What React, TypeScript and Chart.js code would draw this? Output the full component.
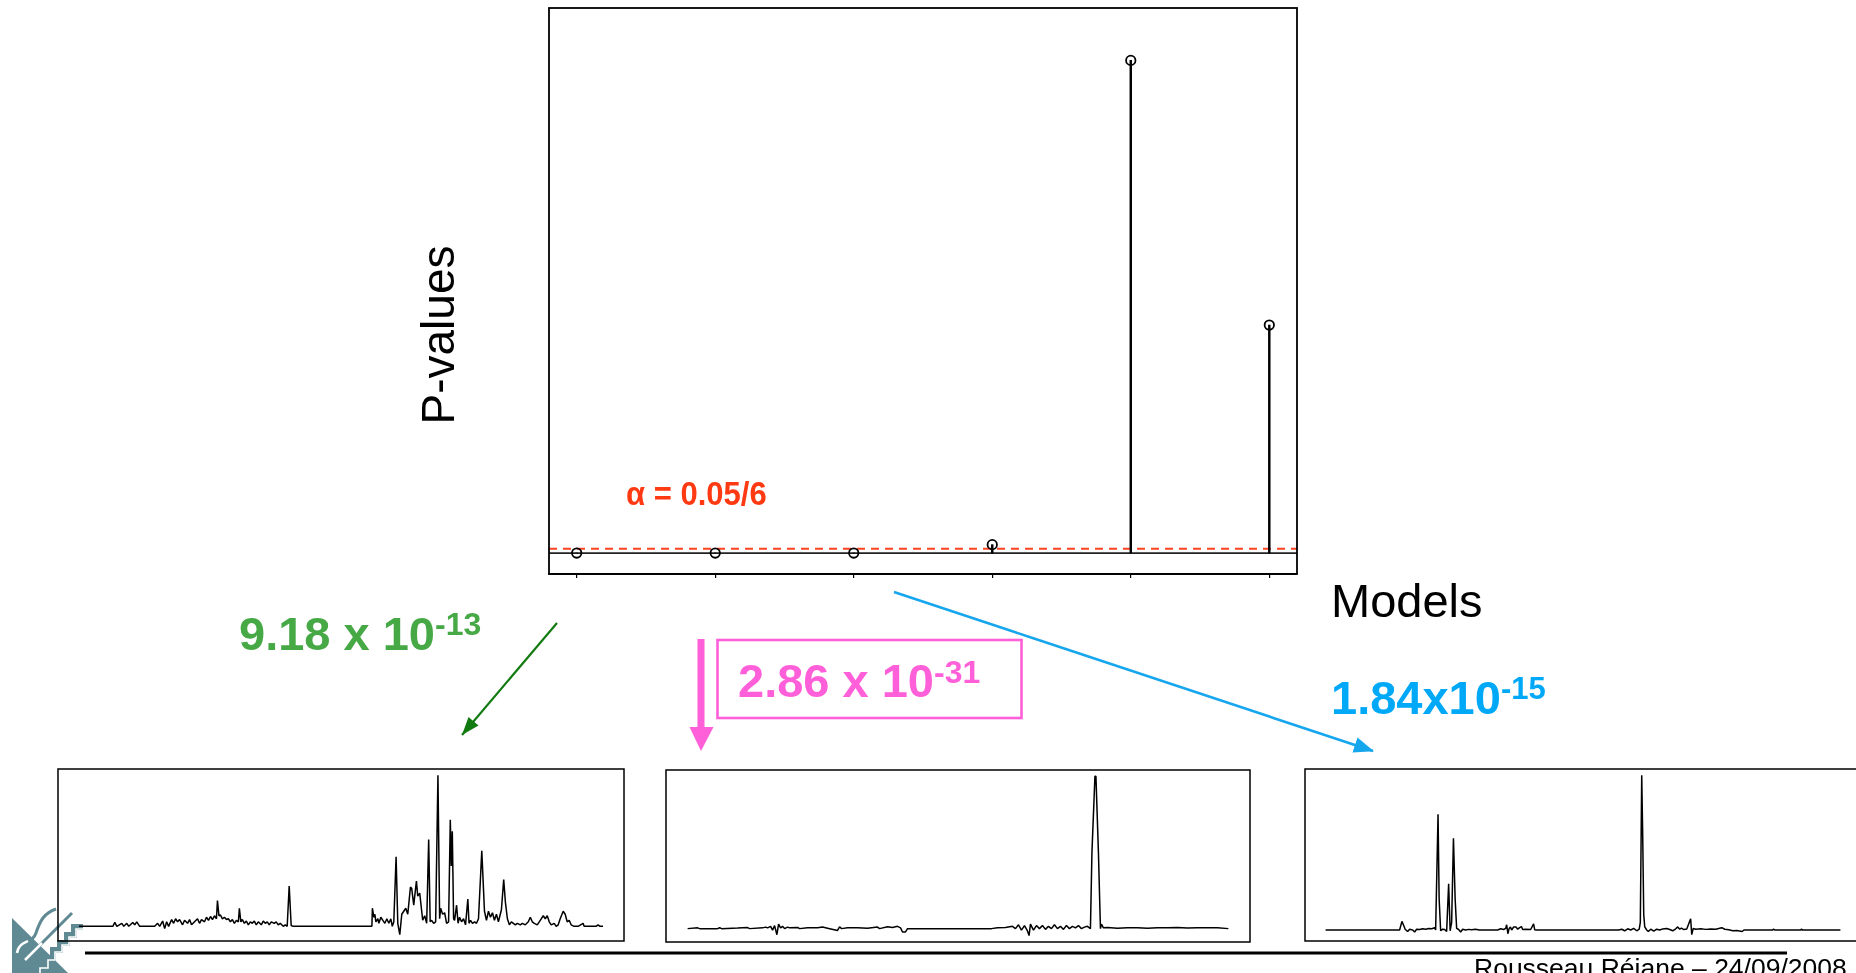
import React, { useEffect, useRef } from "react";
import { Chart, registerables } from "chart.js";

Chart.register(...registerables);

// ---------- Data ----------
const models = [1, 2, 3, 4, 5, 6];
const pValues = [9.18e-13, 2.86e-31, 1.84e-15, 0.016, 0.94, 0.435];
const alphaLevel = 0.05 / 6;
const pRange = [0, 1];

// Spectrum 1 (model 1): [variable index, intensity]
const spectrum1: [number, number][] = [
  [0, 0], [34, 0], [36, 2.6], [38, 0], [43, 2], [45, 0], [48, 2], [50, 0], [54, 2.5], [56, 1], [58, 3], [61, 0], [76, 0],
  [79, 2], [81, 0], [84, 3.5], [86, -1.5], [88, 3], [90, 0], [93, 4.5], [95, 2], [97, 5], [99, 3], [101, 4.5], [104, 1],
  [106, 4], [109, 2], [111, 4.5], [113, 1], [116, 3], [119, 5], [121, 2], [123, 4.5], [126, 3], [128, 6], [130, 4],
  [132, 6.5], [134, 4.5], [136, 7], [138, 5], [139, 17], [140.5, 7], [142, 7.5], [144, 5], [146, 6], [148, 4.5],
  [150, 5], [152, 3], [154, 4.5], [156, 2], [158, 4], [160, 3], [161, 12], [162.5, 3], [164, 4.5], [166, 2], [168, 3.5],
  [170, 1], [172, 3], [174, 2], [176, 3.5], [178, 1], [180, 3], [183, 1], [185, 3.5], [187, 2], [189, 3], [191, 1],
  [193, 3], [196, 2], [198, 3], [200, 1], [202, 2], [205, 0], [207, 1], [209, 0], [211, 26.7], [213, 0.5], [215, 0],
  [294, 0], [294.5, 12], [296, 6], [297, 8], [298, 3], [300, 5], [301, 2], [303, 6], [305, 4], [307, 2], [309, 5],
  [311, 2], [313, 5], [314.5, 0], [316, 3], [318.3, 46], [320, 2], [322, -5.5], [324, 8], [326, 10], [328, 12],
  [330, 8], [332.7, 26], [334, 25], [336, 14], [338.7, 30], [340, 20], [342, 22], [344, 10], [345, 4], [347, 7],
  [349, 2], [351, 57.5], [352.5, 3], [354, 4], [356, 2], [358, 3], [360.3, 100], [362, 5], [363, 12], [365, 8],
  [367, 9], [369, 2], [371, 3], [372.7, 70.6], [373.7, 40], [374.7, 63], [376, 5], [377, 4], [379, 14], [380.5, 2],
  [382, 6], [384, 3], [386, 5], [388, 1], [390.3, 18], [391.5, 2], [393, 4], [395, 2], [397, 3], [399, 2], [401, 5],
  [404.3, 50], [407, 10], [409, 4], [411, 10], [413, 6], [415, 9], [417, 4], [419, 8], [421, 3], [424, 11],
  [426.3, 31], [428, 16], [430, 5], [432, 1], [434, 3], [436, 2], [438, 1], [440, 2], [443, 1], [445, 2], [448, 1],
  [451, 3], [453, 6], [455, 3], [457, 2], [460, 1], [463, 4], [466, 7], [468, 5], [470, 7], [472, 3], [474, 1],
  [477, 2], [479, 0], [481, 1], [483, 5], [486, 10], [488, 8], [490, 3], [492, 4], [494, 1], [497, 0], [501, 0],
  [506, 2], [507, 0], [519, 0], [521, 1], [523, 0], [526, 0],
];

// Spectrum 2 (model 2)
const spectrum2: [number, number][] = [
  [0, 0], [10, 0.5], [12, 0], [30, 0], [32, 0.6], [34, 0], [50, 0.4], [60, 0.7], [62, 0], [75, 0.5], [78, 1],
  [80, 0.5], [83, 1.5], [85, -1], [87, 2], [89.3, -4], [91, 3], [93, 0.5], [95, 1.5], [97, 0], [100, 1], [102, 0.5],
  [110, 0.8], [112, 0], [120, 0.6], [130, 0.5], [135, 1], [140, 0.3], [150, -1.2], [152, 1.2], [154, 0], [160, 0.5],
  [170, 0.6], [180, 0.3], [190, 1], [192, 0], [200, 1.2], [205, 0.8], [210, 1.5], [213, 0.5], [215, -2.2],
  [218, -2.2], [220, 0], [304, 0], [310, 0.5], [318, 0.8], [325, 1.5], [328, 0], [331, 2.5], [334, -1], [337, 2],
  [340, -1.5], [341.6, -4.6], [343, 3], [346, -1], [349, 2], [352, 0], [355, 2], [358, -0.5], [361, 1.5], [364, 0],
  [367, 2.5], [370, 0], [373, 1.5], [376, -0.5], [379, 2], [382, 0], [385, 1.5], [388, 0.5], [391, 2], [394, 0],
  [397, 1], [400, 1.5], [402, 0.5], [403, 0], [404.5, 50], [407.5, 100], [408.5, 100], [411, 50], [413, 0],
  [414, 3], [416, 0.5], [420, 0.7], [430, 0.3], [440, 0.6], [450, 0.5], [460, 0.2], [470, 0.6], [480, 0.5],
  [490, 0.7], [500, 0.4], [510, 0.6], [520, 0.5], [530, 0.6], [541, 0],
];

// Spectrum 3 (model 3)
const spectrum3: [number, number][] = [
  [0, 0], [74, 0], [76.3, 5.6], [78, 3], [79.5, 0.5], [82, -1], [84, 0.5], [87, 0], [89, -1.3], [91, 0.5], [94, 0.3],
  [97, 0.8], [100, 0.5], [103, 1], [106, 0.8], [109, 1.5], [110, 0], [112.4, 74.8], [113.5, 20], [115, -0.5],
  [117, 0.5], [119, 0.3], [121, -1], [123, 29.9], [124.5, -0.5], [126, 5], [127.8, 59.3], [129.5, 20], [131, 1],
  [133, 0.3], [135, -1.3], [137, 0.5], [140, 0], [143, 0.4], [146, 0.2], [150, 0.5], [153.5, 0], [172, 0],
  [175, 0.8], [178, 0.3], [180, 1], [181, 3.4], [182.2, -2.4], [183.5, 1], [184.8, 2], [186, 0], [188, 2],
  [190.3, 2], [192, 0.5], [194, 1.5], [195.8, 2.2], [197, 0.3], [200, 0.5], [205, 0.3], [207.9, 4], [209, 0.2],
  [210.5, 0], [293, 0], [296, 0.5], [299, -0.5], [302, 0.8], [305, 0], [308, 1], [311, -0.5], [313.5, 0.5],
  [314.6, 5], [316, 100], [317, 60], [318, 10], [319, 2], [321, 0], [322.6, -1], [325, 0.5], [328, -0.8], [331, 0.5],
  [334, 0], [337, 0.7], [341, 1], [344, 0.3], [347, -0.5], [350, 0.8], [352, 2], [354, 0.5], [355.7, 1.2],
  [358, 0.3], [361, 0.6], [364.9, 7.3], [366, -3], [367.5, 1], [370, 0.5], [375, 0.8], [380, 0.4], [385, 0.7],
  [390, 0.5], [396, 1.5], [399, 0.5], [403, 0.2], [407, -0.5], [411, -0.3], [416.4, -1], [418.2, 0], [447, 0],
  [447.6, 0.6], [449, 0], [475, 0], [475.5, 0.5], [477, 0], [514.6, 0],
];

// ---------- Helpers ----------
const boxPlugin = {
  id: "box",
  afterDatasetsDraw(chart: any, _args: any, opts: any) {
    const { ctx, chartArea: a } = chart;
    ctx.save();
    ctx.strokeStyle = "#000";
    ctx.lineWidth = opts && opts.width ? opts.width : 1.5;
    ctx.strokeRect(a.left, a.top, a.right - a.left, a.bottom - a.top);
    ctx.restore();
  },
};

function padded(min: number, max: number) {
  const r = max - min;
  return [min - 0.04 * r, max + 0.04 * r];
}

function PValueChart() {
  const ref = useRef<HTMLCanvasElement>(null);
  useEffect(() => {
    const [xMin, xMax] = padded(models[0], models[models.length - 1]);
    const [yMin, yMax] = padded(pRange[0], pRange[1]);
    const pts = models.map((m, i) => ({ x: m, y: pValues[i] }));
    const chart = new Chart(ref.current!, {
      type: "bar",
      data: {
        datasets: [
          {
            type: "scatter",
            data: pts,
            pointRadius: 4.7,
            pointBorderWidth: 1.8,
            pointBorderColor: "#000",
            pointBackgroundColor: "rgba(0,0,0,0)",
            order: 0,
          } as any,
          {
            type: "bar",
            data: pts,
            backgroundColor: "#000",
            barThickness: 1.8,
            order: 1,
          } as any,
          {
            type: "line",
            data: [{ x: xMin, y: 0 }, { x: xMax, y: 0 }],
            borderColor: "#222",
            borderWidth: 1.8,
            pointRadius: 0,
            order: 2,
          } as any,
          {
            type: "line",
            data: [{ x: xMin, y: alphaLevel }, { x: xMax, y: alphaLevel }],
            borderColor: "#FF4422",
            borderWidth: 2,
            borderDash: [8, 6],
            pointRadius: 0,
            order: 3,
          } as any,
        ],
      },
      options: {
        animation: false,
        responsive: false,
        maintainAspectRatio: false,
        layout: { autoPadding: false, padding: { left: 2, right: 2, top: 2, bottom: 6 } },
        plugins: { legend: { display: false }, tooltip: { enabled: false }, box: { width: 1.8 } } as any,
        scales: {
          x: {
            type: "linear",
            min: xMin,
            max: xMax,
            offset: false,
            grid: { display: true, drawOnChartArea: false, drawTicks: true, tickLength: 4, color: "#000", lineWidth: 1.2, offset: false },
            border: { display: true, color: "#000", width: 1.8 },
            ticks: { display: false },
            afterBuildTicks: (axis: any) => {
              axis.ticks = models.map((v) => ({ value: v }));
            },
          },
          y: { type: "linear", min: yMin, max: yMax, display: false },
        },
      },
      plugins: [boxPlugin],
    } as any);
    return () => chart.destroy();
  }, []);
  return (
    <canvas
      ref={ref}
      width={752}
      height={578}
      style={{ position: "absolute", left: 547, top: 6, width: 752, height: 578 }}
    />
  );
}

function Spectrum({ data, left, top, width, height }: { data: [number, number][]; left: number; top: number; width: number; height: number }) {
  const ref = useRef<HTMLCanvasElement>(null);
  useEffect(() => {
    const xs = data.map((d) => d[0]);
    const ys = data.map((d) => d[1]);
    const [xMin, xMax] = padded(Math.min(...xs), Math.max(...xs));
    const [yMin, yMax] = padded(Math.min(...ys), Math.max(...ys));
    const chart = new Chart(ref.current!, {
      type: "line",
      data: {
        datasets: [
          {
            data: data.map((d) => ({ x: d[0], y: d[1] })),
            borderColor: "#000",
            borderWidth: 1.5,
            borderJoinStyle: "bevel",
            pointRadius: 0,
            tension: 0,
            fill: false,
          },
        ],
      },
      options: {
        animation: false,
        responsive: false,
        maintainAspectRatio: false,
        layout: { autoPadding: false, padding: 1 },
        plugins: { legend: { display: false }, tooltip: { enabled: false }, box: { width: 1.5 } } as any,
        scales: {
          x: { type: "linear", min: xMin, max: xMax, display: false },
          y: { type: "linear", min: yMin, max: yMax, display: false },
        },
      },
      plugins: [boxPlugin],
    } as any);
    return () => chart.destroy();
  }, [data]);
  return (
    <canvas
      ref={ref}
      width={width + 2}
      height={height + 2}
      style={{ position: "absolute", left: left - 1, top: top - 1, width: width + 2, height: height + 2 }}
    />
  );
}

const base: React.CSSProperties = {
  position: "absolute",
  fontFamily: '"Liberation Sans", Arial, sans-serif',
  lineHeight: 1,
  whiteSpace: "nowrap",
};

function Logo() {
  const teal = "#5F8A94";
  return (
    <svg width={100} height={80} viewBox="0 0 100 80" style={{ position: "absolute", left: 0, top: 893 }}>
      <polygon points="12,25 12,80 68,80" fill={teal} />
      <polyline points="38,80 38,73 46,73 46,65 53,65 53,57 60,57 60,50 67,50 67,42 74,42 74,34 83,34" fill="none" stroke={teal} strokeWidth={6} />
      <polyline points="38,80 38,73 46,73 46,65 53,65 53,57 60,57 60,50 67,50 67,42 74,42 74,34 83,34" fill="none" stroke="#fff" strokeWidth={1.6} transform="translate(2,2)" />
      <line x1={25} y1={67} x2={72} y2={20} stroke={teal} strokeWidth={3} />
      <line x1={25} y1={67} x2={42} y2={50} stroke="#fff" strokeWidth={2.5} />
      <path d="M17,60 C19,46 32,52 36,40 S 44,20 56,16" fill="none" stroke={teal} strokeWidth={3} />
      <path d="M17,60 C18,52 24,50 28,48" fill="none" stroke="#fff" strokeWidth={2.5} />
    </svg>
  );
}

export default function App() {
  const green = "#46A946";
  const pink = "#FF5FD8";
  const blue = "#00A8F8";
  return (
    <div style={{ position: "fixed", left: 0, top: 0, width: 1856, height: 973, overflow: "hidden", background: "#fff" }}>
      <Logo />
      <PValueChart />
      <Spectrum data={spectrum1} left={58} top={769} width={566} height={172} />
      <Spectrum data={spectrum2} left={666} top={770} width={584} height={172} />
      <Spectrum data={spectrum3} left={1305} top={769} width={556} height={172} />

      <svg width={1856} height={973} style={{ position: "absolute", left: 0, top: 0, pointerEvents: "none" }}>
        <defs>
          <marker id="ab" markerWidth="20" markerHeight="16" refX="19" refY="8" orient="auto" markerUnits="userSpaceOnUse">
            <path d="M0,0 L20,8 L0,16 z" fill="#16A6EE" />
          </marker>
        </defs>
        <line x1={557} y1={623} x2={462} y2={735} stroke="#117A11" strokeWidth={2.2} />
        <path d="M462,735 L468.5,717 L478.5,725.5 z" fill="#117A11" />
        <line x1={894} y1={592} x2={1373} y2={751} stroke="#16A6EE" strokeWidth={2.6} markerEnd="url(#ab)" />
        <rect x={697.5} y={639} width={7} height={90} fill={pink} />
        <path d="M689.5,727 L713.5,727 L701,751 z" fill={pink} />
        <rect x={717.5} y={640} width={304} height={78} fill="none" stroke={pink} strokeWidth={2.6} />
        <rect x={85} y={951.5} width={1702} height={3} fill="#000" />
      </svg>

      <div style={{ ...base, left: 626, top: 477, fontSize: 33, fontWeight: 700, color: "#FF3A12", transform: "scaleX(0.94)", transformOrigin: "left top" }}>α = 0.05/6</div>
      <div style={{ ...base, left: 438, top: 335, fontSize: 46, color: "#000", transform: "translate(-50%,-50%) rotate(-90deg)" }}>P-values</div>
      <div style={{ ...base, left: 1331, top: 617 - 0.8465 * 47, fontSize: 47, color: "#000" }}>Models</div>

      <div style={{ ...base, left: 239, top: 649.3 - 0.8465 * 47, fontSize: 47, fontWeight: 700, color: green }}>
        9.18 x 10<span style={{ fontSize: 32, position: "relative", top: -15 }}>-13</span>
      </div>
      <div style={{ ...base, left: 738, top: 696.7 - 0.8465 * 47, fontSize: 47, fontWeight: 700, color: pink }}>
        2.86 x 10<span style={{ fontSize: 32, position: "relative", top: -14 }}>-31</span>
      </div>
      <div style={{ ...base, left: 1331, top: 713.3 - 0.8465 * 47, fontSize: 47, fontWeight: 700, color: blue }}>
        1.84x10<span style={{ fontSize: 31, position: "relative", top: -15 }}>-15</span>
      </div>

      <div style={{ ...base, left: 1474, top: 954.6, fontSize: 26.5, color: "#000" }}>Rousseau Réjane – 24/09/2008</div>
    </div>
  );
}
